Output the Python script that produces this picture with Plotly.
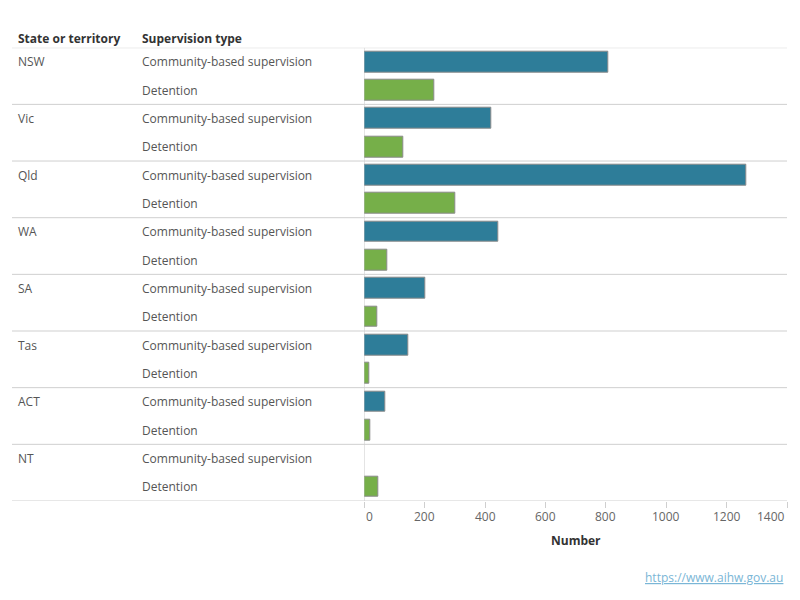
import plotly.graph_objects as go

states = ["NSW", "Vic", "Qld", "WA", "SA", "Tas", "ACT", "NT"]
sup_types = ["Community-based supervision", "Detention"]
community = [809, 422, 1265, 445, 203, 147, 71, 0]
detention = [233, 130, 303, 77, 44, 18, 21, 48]
tick_values = [0, 200, 400, 600, 800, 1000, 1200, 1400]
colors = {"Community-based supervision": "#2e7d99", "Detention": "#76af49"}

FONT = "Open Sans"
LABEL_COLOR = "#555555"
HEAD_COLOR = "#333333"
GRID = "#cfcfcf"

n_rows = len(states) * 2
x_dom = [364.3 / 800, 787 / 800]
y_dom = [(600 - 501) / 600, (600 - 47.7) / 600]

fig = go.Figure()
for t_i, t in enumerate(sup_types):
    vals = community if t_i == 0 else detention
    ys = [s_i * 2 + t_i for s_i in range(len(states))]
    fig.add_trace(go.Bar(
        x=vals, y=ys, orientation="h", width=0.73,
        marker=dict(color=colors[t],
                    line=dict(color="#8a8a8a", width=[1 if v > 0 else 0 for v in vals])),
        name=t, showlegend=False,
        hovertemplate="%{x}<extra></extra>",
    ))

annotations = []
shapes = []
# header
for txt, xp in [("State or territory", 18), ("Supervision type", 142)]:
    annotations.append(dict(text="<b>" + txt + "</b>", x=xp / 800, xref="paper", xanchor="left", xshift=-2,
                            y=(600 - 39) / 600, yref="paper", yanchor="middle", showarrow=False,
                            font=dict(family=FONT, size=12, color=HEAD_COLOR)))

for s_i, s in enumerate(states):
    annotations.append(dict(text=s, x=18 / 800, xref="paper", xanchor="left", xshift=-2,
                            y=s_i * 2, yref="y", yanchor="middle", showarrow=False,
                            font=dict(family=FONT, size=12, color=LABEL_COLOR)))
    for t_i, t in enumerate(sup_types):
        annotations.append(dict(text=t, x=142 / 800, xref="paper", xanchor="left", xshift=-2,
                                y=s_i * 2 + t_i, yref="y", yanchor="middle", showarrow=False,
                                font=dict(family=FONT, size=12, color=LABEL_COLOR)))

# separators
for k in range(len(states) + 1):
    yy = k * 2 - 0.5
    shapes.append(dict(type="line", xref="paper", x0=12 / 800, x1=787 / 800,
                       yref="y", y0=yy, y1=yy, line=dict(color=GRID, width=1), layer="below"))
# zero line
shapes.append(dict(type="line", xref="x", x0=0, x1=0, yref="y", y0=-0.5, y1=n_rows - 0.5,
                   line=dict(color=GRID, width=1), layer="below"))

# tick labels
for i, tv in enumerate(tick_values):
    anchor = "center"
    if i == 0:
        anchor = "left"
    elif i == len(tick_values) - 1:
        anchor = "right"
    annotations.append(dict(text=str(tv), x=tv, xref="x", xanchor=anchor,
                            y=(600 - 516) / 600, yref="paper", yanchor="middle", showarrow=False,
                            font=dict(family=FONT, size=12, color="#666666")))

annotations.append(dict(text="<b>Number</b>", x=0.5, xref="x domain", xanchor="center",
                        y=(600 - 540) / 600, yref="paper", yanchor="middle", showarrow=False,
                        font=dict(family=FONT, size=12, color=HEAD_COLOR)))
annotations.append(dict(text="<a href='https://www.aihw.gov.au' style='color:#7ab6d6'><u>https://www.aihw.gov.au</u></a>",
                        x=785 / 800, xref="paper", xanchor="right",
                        y=(600 - 577) / 600, yref="paper", yanchor="middle", showarrow=False,
                        font=dict(family=FONT, size=12, color="#7ab6d6")))

fig.update_layout(
    width=800, height=600,
    margin=dict(l=0, r=0, t=0, b=0),
    paper_bgcolor="white", plot_bgcolor="white",
    bargap=0,
    xaxis=dict(domain=x_dom, range=[0, 1400], showgrid=False, zeroline=False,
               showline=False, tickvals=tick_values, showticklabels=False,
               ticks="outside", ticklen=6, tickcolor=GRID, fixedrange=True),
    yaxis=dict(domain=y_dom, range=[n_rows - 0.5, -0.5], showgrid=False, zeroline=False,
               showticklabels=False, showline=False, fixedrange=True),
    annotations=annotations, shapes=shapes,
    font=dict(family=FONT),
)

fig.write_html("out.html")
